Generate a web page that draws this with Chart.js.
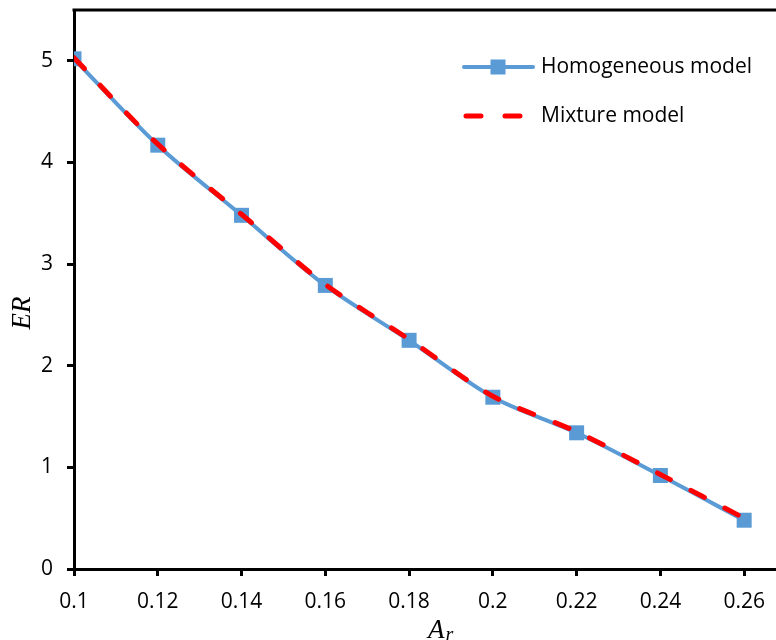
<!DOCTYPE html>
<html>
<head>
<meta charset="utf-8">
<script src="https://cdn.jsdelivr.net/npm/chart.js@4/dist/chart.umd.min.js"></script>
<style>
  html, body { margin: 0; padding: 0; background: #fff; }
  #wrap { width: 776px; height: 640px; }
</style>
</head>
<body>
<div id="wrap"><canvas id="erChart" width="776" height="640"></canvas></div>
<script>
// values
const arValues = [0.1, 0.12, 0.14, 0.16, 0.18, 0.2, 0.22, 0.24, 0.26];
const homogeneousER = [5.02, 4.17, 3.48, 2.79, 2.25, 1.69, 1.34, 0.92, 0.48];
const mixtureER = [5.03, 4.18, 3.49, 2.80, 2.26, 1.70, 1.35, 0.93, 0.50];
const xTickValues = [0.1, 0.12, 0.14, 0.16, 0.18, 0.2, 0.22, 0.24, 0.26];
const yTickValues = [0, 1, 2, 3, 4, 5];

const blue = "#5B9BD5";
const red = "#FF0000";
const tickFont = { family: "'Open Sans', sans-serif", size: 21 };

function pairs(xs, ys) {
    return xs.map((x, i) => ({ x: x, y: ys[i] }));
}

// top frame line, axis titles and the legend inside the plot
const decorations = {
    id: "decorations",
    afterDraw(chart) {
        const c = chart.ctx;
        const area = chart.chartArea;
        c.save();
        c.setLineDash([]);

        // top frame line
        c.fillStyle = "#000";
        c.fillRect(area.left - 1.5, area.top - 1.5, area.right - area.left + 1.5, 3);

        // y title
        c.font = "italic 27px 'Liberation Serif', serif";
        c.textAlign = "center";
        c.textBaseline = "middle";
        c.save();
        c.translate(23, 313);
        c.rotate(-Math.PI / 2);
        c.fillText("ER", 0, 0);
        c.restore();

        // x title with subscript
        c.textAlign = "left";
        c.textBaseline = "alphabetic";
        c.font = "italic 27px 'Liberation Serif', serif";
        c.fillText("A", 428, 638);
        const aw = c.measureText("A").width;
        c.font = "italic 20px 'Liberation Serif', serif";
        c.fillText("r", 428 + aw + 1, 641);

        // legend
        const ds = chart.data.datasets;
        c.font = "21px 'Open Sans', sans-serif";
        c.textBaseline = "middle";

        c.strokeStyle = blue;
        c.lineWidth = 4;
        c.lineCap = "round";
        c.beginPath();
        c.moveTo(464, 67);
        c.lineTo(533, 67);
        c.stroke();
        c.fillStyle = blue;
        c.fillRect(498 - 7.5, 67 - 7.5, 15, 15);
        c.fillStyle = "#000";
        c.fillText(ds[0].label, 541, 67);

        c.strokeStyle = red;
        c.lineWidth = 5;
        c.beginPath();
        c.moveTo(466, 116);
        c.lineTo(481, 116);
        c.moveTo(505, 116);
        c.lineTo(520, 116);
        c.stroke();
        c.fillText(ds[1].label, 541, 116);

        c.restore();
    }
};

const axisGrid = {
    drawOnChartArea: false,
    drawTicks: true,
    tickLength: 7,
    tickWidth: 3,
    tickColor: "#000"
};

const ctx = document.getElementById("erChart").getContext("2d");
new Chart(ctx, {
    type: "line",
    data: {
        datasets: [
            {
                label: "Homogeneous model",
                data: pairs(arValues, homogeneousER),
                borderColor: blue,
                backgroundColor: blue,
                borderWidth: 4,
                tension: 0.3,
                pointStyle: "rect",
                pointRadius: 10.6,
                pointBorderWidth: 0,
                pointHoverRadius: 10.6,
                order: 2
            },
            {
                label: "Mixture model",
                data: pairs(arValues, mixtureER),
                borderColor: red,
                backgroundColor: red,
                borderWidth: 5,
                borderDash: [15, 23],
                borderCapStyle: "round",
                tension: 0.3,
                pointRadius: 0,
                order: 1
            }
        ]
    },
    options: {
        responsive: false,
        animation: false,
        layout: { autoPadding: false, padding: { top: 10, right: 0, left: 0, bottom: 0 } },
        plugins: {
            legend: { display: false },
            tooltip: { enabled: false }
        },
        scales: {
            x: {
                type: "linear",
                min: 0.1,
                max: 0.2676,
                afterBuildTicks: scale => { scale.ticks = xTickValues.map(v => ({ value: v })); },
                afterFit: scale => {
                    scale.height = 71;
                    scale.paddingLeft = 0;
                    scale.paddingRight = 0;
                },
                ticks: {
                    font: tickFont,
                    color: "#000",
                    padding: 13,
                    maxRotation: 0,
                    autoSkip: false,
                    callback: v => String(Number(v.toFixed(2)))
                },
                grid: axisGrid,
                border: { display: true, color: "#000", width: 3 }
            },
            y: {
                min: 0,
                max: 5.5,
                afterBuildTicks: scale => { scale.ticks = yTickValues.map(v => ({ value: v })); },
                afterFit: scale => {
                    scale.width = 74;
                    scale.paddingTop = 0;
                    scale.paddingBottom = 0;
                },
                ticks: {
                    font: tickFont,
                    color: "#000",
                    padding: 14
                },
                grid: axisGrid,
                border: { display: true, color: "#000", width: 3 }
            }
        }
    },
    plugins: [decorations]
});
</script>
</body>
</html>
